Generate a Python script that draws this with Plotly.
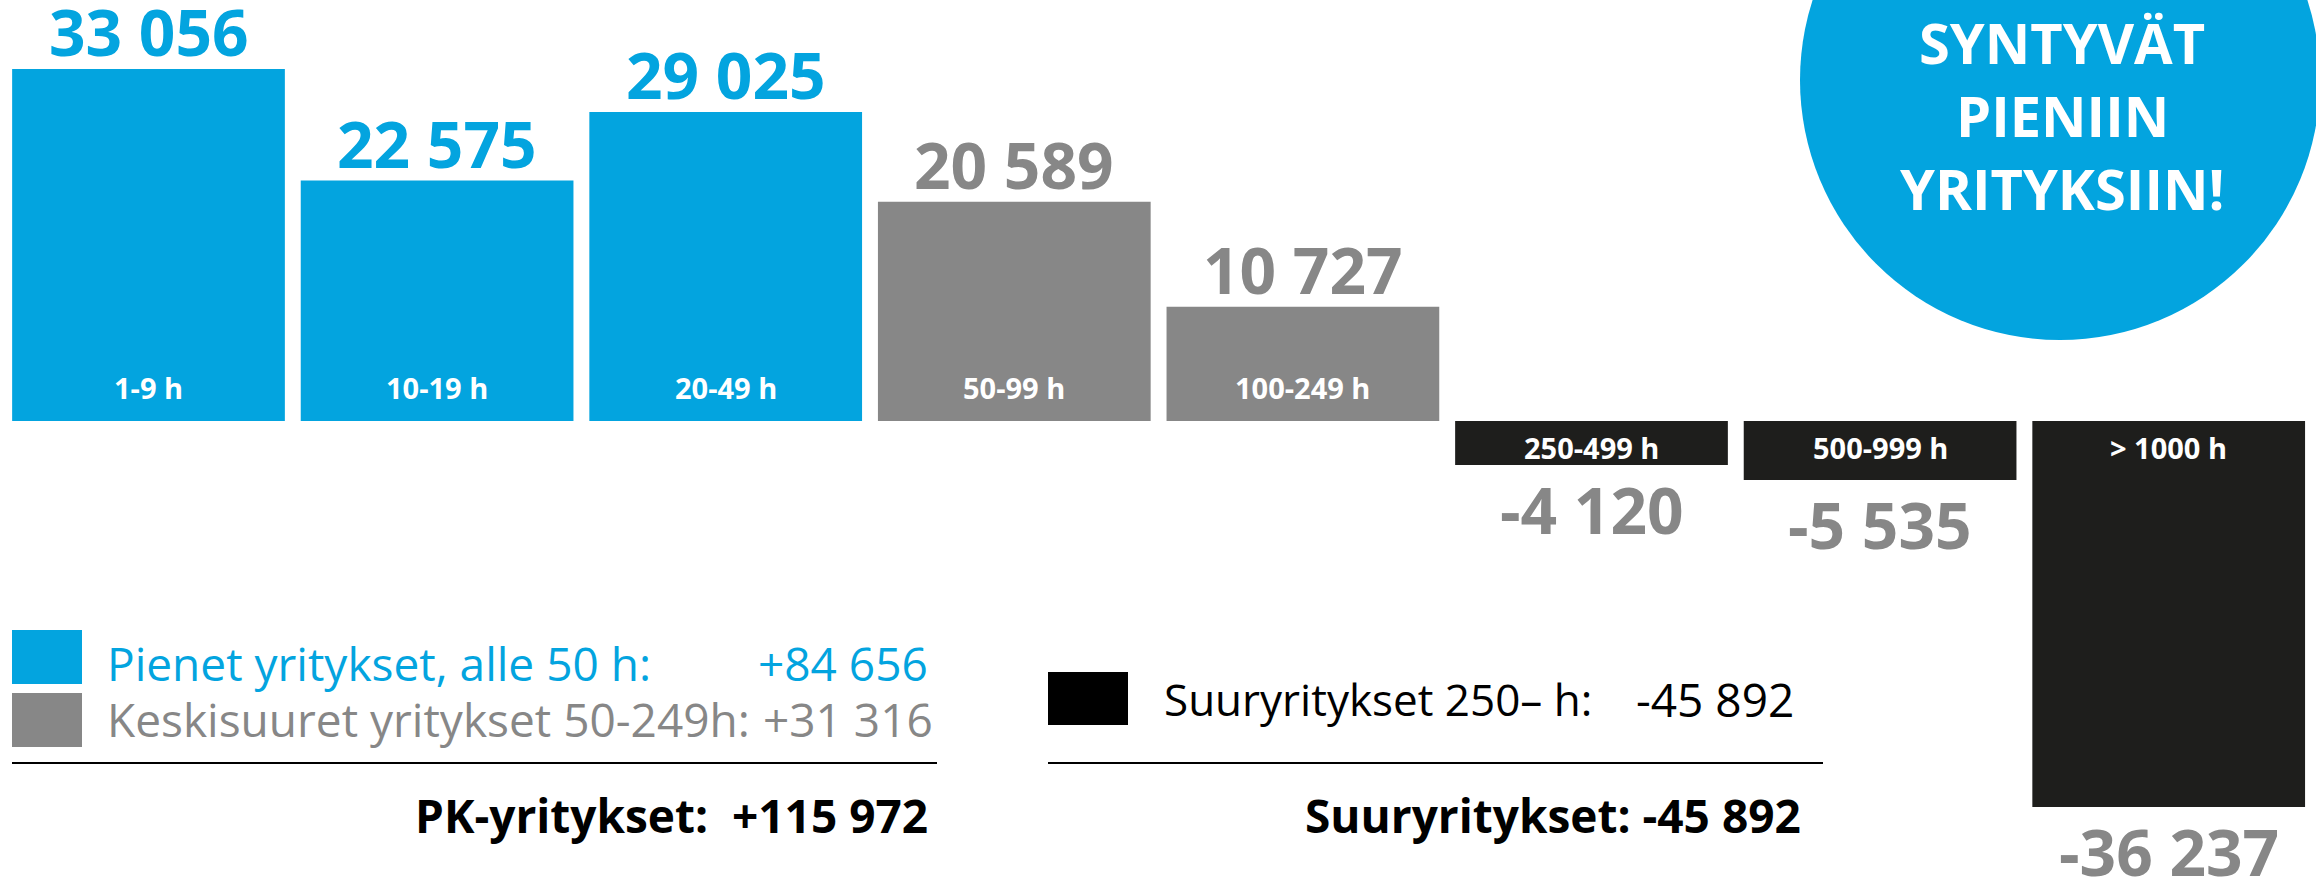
import plotly.graph_objects as go

# ---------------- data ----------------
categories = ["1-9 h", "10-19 h", "20-49 h", "50-99 h", "100-249 h",
              "250-499 h", "500-999 h", "> 1000 h"]
values = [33056, 22575, 29025, 20589, 10727, -4120, -5535, -36237]
groups = ["small", "small", "small", "medium", "medium", "large", "large", "large"]

group_names = {
    "small": "Pienet yritykset, alle 50 h:",
    "medium": "Keskisuuret yritykset 50-249h:",
    "large": "Suuryritykset 250– h:",
}
circle_lines = ["SYNTYVÄT", "PIENIIN", "YRITYKSIIN!"]

BLUE = "#03A4DF"
GRAY = "#878787"
DARK = "#1E1E1C"
group_colors = {"small": BLUE, "medium": GRAY, "large": DARK}
label_colors = {"small": BLUE, "medium": GRAY, "large": GRAY}

W, H = 2316, 878
FONT = "Open Sans, Roboto, DejaVu Sans, sans-serif"


def fmt(v, sign=False):
    s = f"{abs(v):,}".replace(",", " ")
    if v < 0:
        return "-" + s
    return ("+" + s) if sign else s


def px(x):
    return x / W


def py(y):
    return 1 - y / H


totals = {g: sum(v for v, gg in zip(values, groups) if gg == g) for g in group_names}
pk_total = totals["small"] + totals["medium"]
large_total = totals["large"]

fig = go.Figure()
fig.add_trace(go.Bar(
    x=categories, y=values,
    marker=dict(color=[group_colors[g] for g in groups], line=dict(width=0)),
    hoverinfo="x+y", showlegend=False,
))

annotations = []
# value labels and category labels
for cat, v, g in zip(categories, values, groups):
    annotations.append(dict(
        x=cat, y=v, xref="x", yref="y", text=f"<b>{fmt(v)}</b>",
        showarrow=False, xanchor="center", yanchor="middle",
        yshift=37 if v > 0 else -45,
        font=dict(family=FONT, size=64, color=label_colors[g]),
    ))
    annotations.append(dict(
        x=cat, y=0, xref="x", yref="y", text=f"<b>{cat}</b>",
        showarrow=False, xanchor="center", yanchor="middle",
        yshift=34 if v > 0 else -26,
        font=dict(family=FONT, size=29, color="white"),
    ))

# circle text
for i, line in enumerate(circle_lines):
    annotations.append(dict(
        x=px(2062), y=py(42 + 73 * i), xref="paper", yref="paper",
        text=f"<b>{line}</b>", showarrow=False,
        xanchor="center", yanchor="middle",
        font=dict(family=FONT, size=56, color="white"),
    ))

# left legend
annotations += [
    dict(x=px(105), y=py(663), xref="paper", yref="paper", text=group_names["small"],
         showarrow=False, xanchor="left", yanchor="middle",
         font=dict(family=FONT, size=46, color=BLUE)),
    dict(x=px(930), y=py(663), xref="paper", yref="paper", text=fmt(totals["small"], True),
         showarrow=False, xanchor="right", yanchor="middle",
         font=dict(family=FONT, size=46, color=BLUE)),
    dict(x=px(105), y=py(719), xref="paper", yref="paper", text=group_names["medium"],
         showarrow=False, xanchor="left", yanchor="middle",
         font=dict(family=FONT, size=46, color=GRAY)),
    dict(x=px(935), y=py(719), xref="paper", yref="paper", text=fmt(totals["medium"], True),
         showarrow=False, xanchor="right", yanchor="middle",
         font=dict(family=FONT, size=46, color=GRAY)),
    dict(x=px(930), y=py(815), xref="paper", yref="paper",
         text=f"<b>PK-yritykset:  {fmt(pk_total, True)}</b>",
         showarrow=False, xanchor="right", yanchor="middle",
         font=dict(family=FONT, size=46, color="black")),
    # right legend
    dict(x=px(1162), y=py(699), xref="paper", yref="paper", text=group_names["large"],
         showarrow=False, xanchor="left", yanchor="middle",
         font=dict(family=FONT, size=44, color="black")),
    dict(x=px(1796), y=py(699), xref="paper", yref="paper", text=fmt(large_total),
         showarrow=False, xanchor="right", yanchor="middle",
         font=dict(family=FONT, size=46, color="black")),
    dict(x=px(1803), y=py(815), xref="paper", yref="paper",
         text=f"<b>Suuryritykset: {fmt(large_total)}</b>",
         showarrow=False, xanchor="right", yanchor="middle",
         font=dict(family=FONT, size=46, color="black")),
]

shapes = [
    dict(type="circle", xref="paper", yref="paper",
         x0=px(1800), x1=px(2320), y0=py(340), y1=py(-180),
         fillcolor=BLUE, line=dict(width=0), layer="below"),
    dict(type="rect", xref="paper", yref="paper", x0=px(12), x1=px(82),
         y0=py(684), y1=py(630), fillcolor=BLUE, line=dict(width=0)),
    dict(type="rect", xref="paper", yref="paper", x0=px(12), x1=px(82),
         y0=py(747), y1=py(693), fillcolor=GRAY, line=dict(width=0)),
    dict(type="line", xref="paper", yref="paper", x0=px(12), x1=px(937),
         y0=py(763), y1=py(763), line=dict(color="black", width=2)),
    dict(type="rect", xref="paper", yref="paper", x0=px(1048), x1=px(1128),
         y0=py(725), y1=py(672), fillcolor="black", line=dict(width=0)),
    dict(type="line", xref="paper", yref="paper", x0=px(1048), x1=px(1823),
         y0=py(763), y1=py(763), line=dict(color="black", width=2)),
]

SCALE = 0.01065  # px per unit
ZERO = 421
fig.update_layout(
    width=W, height=H,
    margin=dict(l=0, r=0, t=0, b=0),
    paper_bgcolor="white", plot_bgcolor="white",
    bargap=0.055,
    xaxis=dict(type="category", range=[-0.5, 7.5], domain=[4.2 / W, 2313 / W],
               showticklabels=False, showgrid=False, zeroline=False, showline=False),
    yaxis=dict(range=[-(H - ZERO) / SCALE, ZERO / SCALE],
               showticklabels=False, showgrid=False, zeroline=False, showline=False),
    annotations=annotations,
    shapes=shapes,
)

fig.write_html(
    "out.html",
    config={"displayModeBar": False},
    post_script="document.body.style.margin='0px';document.body.style.overflow='hidden';",
)
